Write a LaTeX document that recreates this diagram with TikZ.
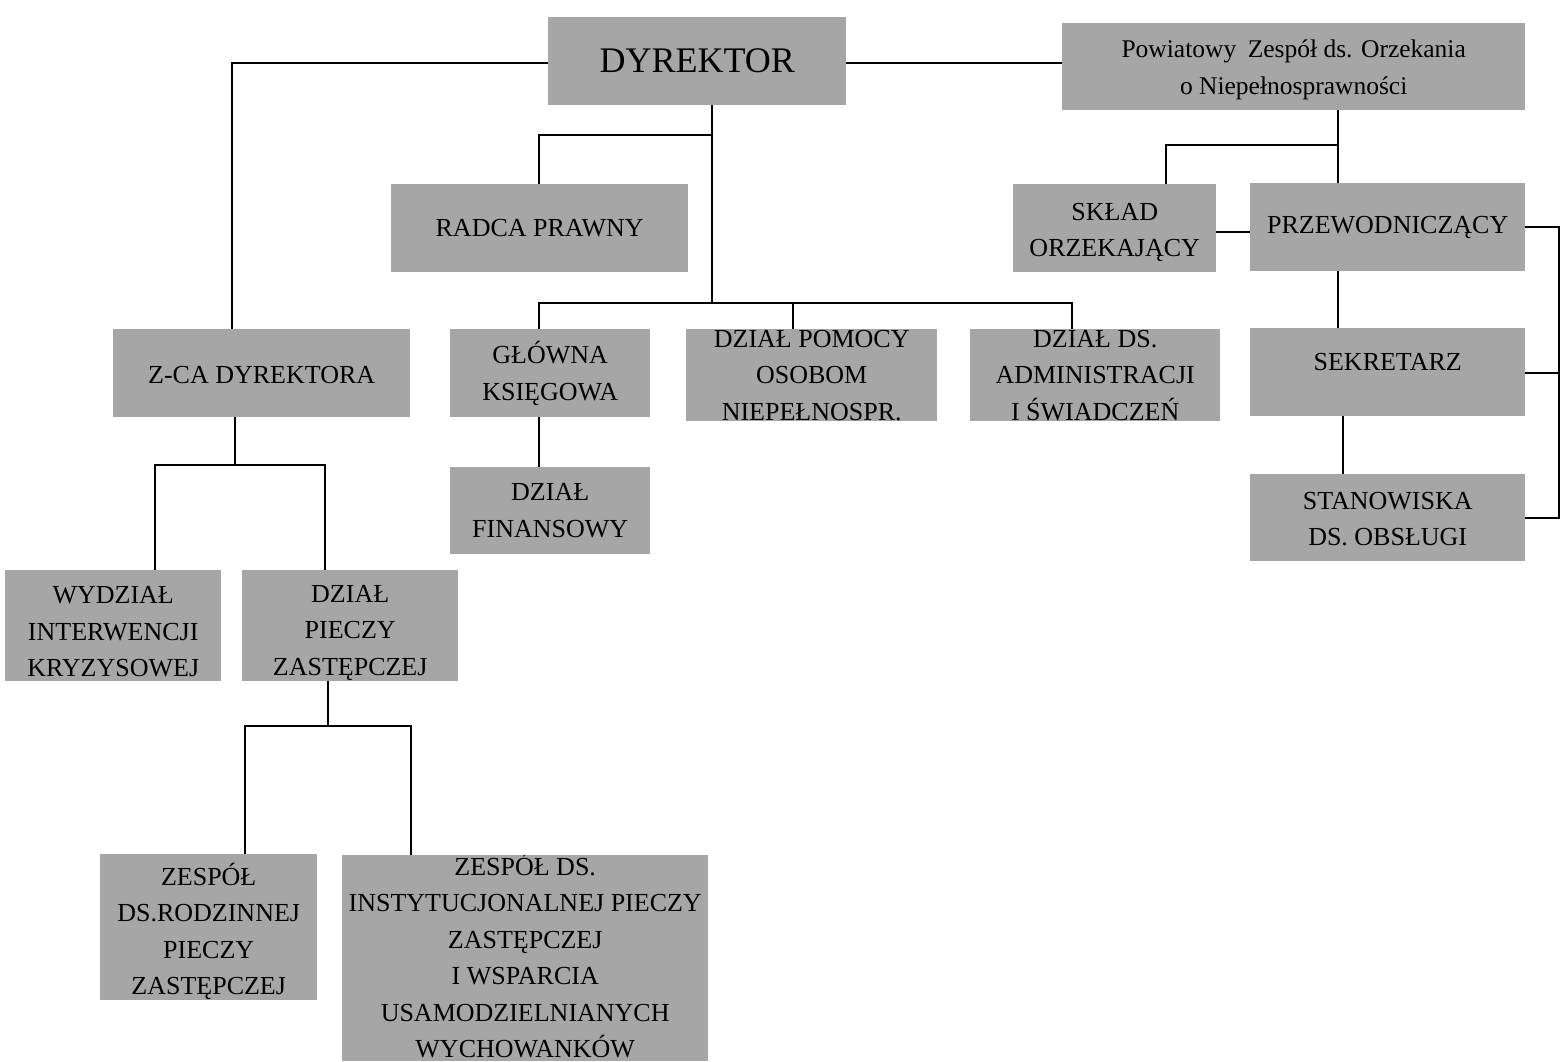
\documentclass[tikz,border=0pt]{standalone}
\usepackage{fontspec}
\setmainfont{Liberation Serif}
\definecolor{boxgray}{RGB}{166,166,166}
\tikzset{
  box/.style={fill=boxgray, inner sep=0pt, anchor=north west, align=center,
    font=\fontsize{26}{36.5}\selectfont},
  txt/.style={inner sep=0pt, anchor=center, align=center, font=\fontsize{26}{36.5}\selectfont},
  conn/.style={draw=black, line width=2.6pt},
}
\newcommand\lift[1]{\rule{0pt}{#1}}
\begin{document}
\begin{tikzpicture}[x=1pt,y=-1pt]
\useasboundingbox (0,0) rectangle (1565,1061);
\begin{scope}
\clip (0,0) rectangle (1565,1061);
% boxes
\node[box, minimum width=298pt, minimum height=88pt, font=\fontsize{36}{40}\selectfont] (dyr) at (548,17) {DYREKTOR};
\node[box, minimum width=463pt, minimum height=87pt, font=\fontsize{25.5}{37}\selectfont] (pow) at (1062,23) {\lift{25pt}Powiatowy\hspace{0.2em} Zespół ds. Orzekania\\o Niepełnosprawności};
\node[box, minimum width=297pt, minimum height=88pt] (radca) at (391,184) {RADCA PRAWNY};
\node[box, minimum width=203pt, minimum height=88pt] (sklad) at (1013,184) {\lift{26pt}SKŁAD\\ORZEKAJĄCY};
\node[box, minimum width=275pt, minimum height=88pt] (przew) at (1250,183) {PRZEWODNICZĄCY};
\node[box, minimum width=297pt, minimum height=88pt] (zca) at (113,329) {\lift{21pt}Z-CA DYREKTORA};
\node[box, minimum width=200pt, minimum height=88pt] (glowna) at (450,329) {GŁÓWNA\\KSIĘGOWA};
\node[box, minimum width=251pt, minimum height=92pt,
  path picture={\node[txt] at (path picture bounding box.center) {DZIAŁ POMOCY\\OSOBOM\\NIEPEŁNOSPR.};}] (dzp) at (686,329) {};
\node[box, minimum width=250pt, minimum height=92pt,
  path picture={\node[txt] at (path picture bounding box.center) {DZIAŁ DS.\\ADMINISTRACJI\\I ŚWIADCZEŃ};}] (dzds) at (970,329) {};
\node[box, minimum width=275pt, minimum height=88pt, text depth=20pt] (sekr) at (1250,328) {SEKRETARZ};
\node[box, minimum width=200pt, minimum height=87pt] (fin) at (450,467) {DZIAŁ\\FINANSOWY};
\node[box, minimum width=275pt, minimum height=87pt] (stan) at (1250,474) {\lift{20pt}STANOWISKA\\DS. OBSŁUGI};
\node[box, minimum width=216pt, minimum height=111pt] (wyd) at (5,570) {\lift{29pt}WYDZIAŁ\\INTERWENCJI\\KRYZYSOWEJ};
\node[box, minimum width=216pt, minimum height=111pt] (dpz) at (242,570) {\lift{31pt}DZIAŁ\\PIECZY\\ZASTĘPCZEJ};
\node[box, minimum width=217pt, minimum height=145pt] (zr) at (100,854) {\lift{31pt}ZESPÓŁ\\DS.RODZINNEJ\\PIECZY\\ZASTĘPCZEJ};
\node[box, minimum width=366pt, minimum height=206pt,
  path picture={\node[txt, yshift=2.5pt] at (path picture bounding box.center) {ZESPÓŁ DS.\\INSTYTUCJONALNEJ PIECZY\\ZASTĘPCZEJ\\I WSPARCIA\\USAMODZIELNIANYCH\\WYCHOWANKÓW};}] (zds) at (342,855) {};
\end{scope}
% junction coordinates
\coordinate (c1) at (232,63);
\coordinate (t) at (712,303);
\coordinate (r) at (539,135);
\coordinate (b1) at (539,303);
\coordinate (b2) at (793,303);
\coordinate (b3) at (1072,303);
\coordinate (z) at (235,465);
\coordinate (zl) at (155,465);
\coordinate (zr1) at (325,465);
\coordinate (p) at (328,726);
\coordinate (pl) at (245,726);
\coordinate (pr) at (411,726);
\coordinate (q) at (1338,145);
\coordinate (s) at (1166,145);
\coordinate (e) at (1559,227);
% connectors
\draw[conn] (c1 -| dyr.west) -- (c1) -- (c1 |- zca.north);
\draw[conn] (c1 -| dyr.east) -- (c1 -| pow.west);
\draw[conn] (t |- dyr.south) -- (t);
\draw[conn] (r -| t) -- (r) -- (r |- radca.north);
\draw[conn] (b1 |- glowna.north) -- (b1) -- (b3) -- (b3 |- dzds.north);
\draw[conn] (b2) -- (b2 |- dzp.north);
\draw[conn] (b1 |- glowna.south) -- (b1 |- fin.north);
\draw[conn] (z |- zca.south) -- (z);
\draw[conn] (zl |- wyd.north) -- (zl) -- (zr1) -- (zr1 |- dpz.north);
\draw[conn] (p |- dpz.south) -- (p);
\draw[conn] (pl |- zr.north) -- (pl) -- (pr) -- (pr |- zds.north);
\draw[conn] (q |- pow.south) -- (q |- przew.north);
\draw[conn] (q) -- (s) -- (s |- sklad.north);
\draw[conn] (sklad.east |- 0,232) -- (przew.west |- 0,232);
\draw[conn] (q |- przew.south) -- (q |- sekr.north);
\draw[conn] (1343,0 |- sekr.south) -- (1343,0 |- stan.north);
\draw[conn] (e -| przew.east) -- (e) -- (e |- 0,518) -- (stan.east |- 0,518);
\draw[conn] (sekr.east |- 0,373) -- (e |- 0,373);
\end{tikzpicture}
\end{document}
